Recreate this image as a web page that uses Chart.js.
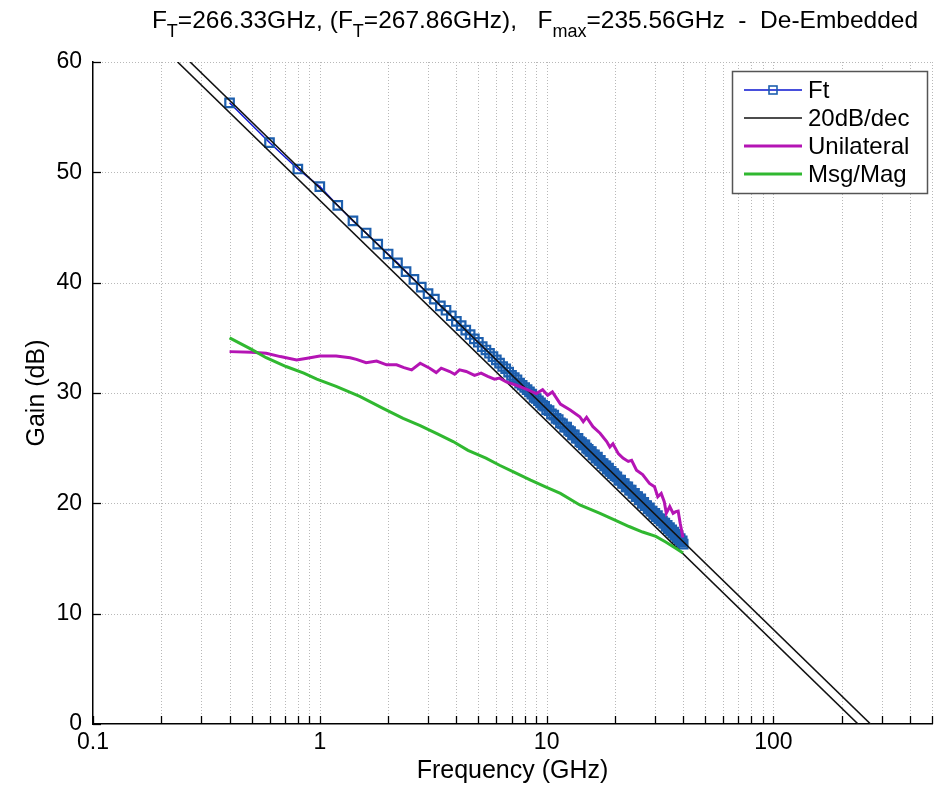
<!DOCTYPE html>
<html>
<head>
<meta charset="utf-8">
<title>Gain vs Frequency</title>
<script src="https://cdn.jsdelivr.net/npm/chart.js"></script>
<style>
  body { margin: 0; background: #fff; }
  .wrap { position: relative; width: 942px; height: 786px; }
  #title {
    position: absolute; top: 6px; left: 0; width: 942px;
    padding-left: 128px; box-sizing: border-box; text-align: center;
    font: 24.5px 'Liberation Sans', Arial, sans-serif; white-space: pre; color: #000;
  }
  #title sub { font-size: 18px; vertical-align: -9px; line-height: 0; }
</style>
</head>
<body>
<div class="wrap">
  <div id="title">F<sub>T</sub>=266.33GHz, (F<sub>T</sub>=267.86GHz),   F<sub>max</sub>=235.56GHz  -  De-Embedded</div>
  <canvas id="gainChart" width="942" height="786"></canvas>
</div>

<script>
// axis ticks
const xTickValues = [0.1, 0.2, 0.3, 0.4, 0.5, 0.6, 0.7, 0.8, 0.9,
                     1, 2, 3, 4, 5, 6, 7, 8, 9,
                     10, 20, 30, 40, 50, 60, 70, 80, 90,
                     100, 200, 300, 400, 500];
const xLabelValues = [0.1, 1, 10, 100];
const yTickValues = [0, 10, 20, 30, 40, 50, 60];

// Ft (|h21|) measured points
const ftFreq = [0.4, 0.6, 0.8, 1.0, 1.2, 1.4, 1.6, 1.8, 2.0, 2.2, 2.4, 2.6, 2.8, 3.0, 3.2, 3.4, 3.6, 3.8,
                4.0, 4.2, 4.4, 4.6, 4.8, 5.0, 5.2, 5.4, 5.6, 5.8, 6.0, 6.2, 6.4, 6.6, 6.8, 7.0, 7.2, 7.4,
                7.6, 7.8, 8.0, 8.2, 8.4, 8.6, 8.8, 9.0, 9.2, 9.4, 9.6, 9.8,
                10, 10.25, 10.5, 10.75, 11, 11.25, 11.5, 11.75, 12, 12.25, 12.5, 12.75, 13, 13.25, 13.5, 13.75,
                14, 14.25, 14.5, 14.75, 15, 15.25, 15.5, 15.75, 16, 16.25, 16.5, 16.75, 17, 17.25, 17.5, 17.75,
                18, 18.25, 18.5, 18.75, 19, 19.25, 19.5, 19.75, 20,
                20.4, 20.8, 21.2, 21.6, 22, 22.4, 22.8, 23.2, 23.6, 24, 24.4, 24.8, 25.2, 25.6, 26, 26.4, 26.8,
                27.2, 27.6, 28, 28.4, 28.8, 29.2, 29.6, 30, 30.4, 30.8, 31.2, 31.6, 32, 32.4, 32.8, 33.2, 33.6,
                34, 34.4, 34.8, 35.2, 35.6, 36, 36.4, 36.8, 37.2, 37.6, 38, 38.4, 38.8, 39.2, 39.6, 40];
const ftGain = [56.3, 52.7, 50.3, 48.7, 47.0, 45.6, 44.5, 43.5, 42.6, 41.8, 41.0, 40.3, 39.6, 39.0, 38.5, 37.9, 37.5, 37.0,
                36.5, 36.1, 35.7, 35.3, 34.9, 34.6, 34.2, 33.9, 33.6, 33.3, 33.0, 32.7, 32.4, 32.2, 31.9, 31.6, 31.4, 31.2,
                30.9, 30.7, 30.5, 30.3, 30.1, 29.9, 29.6, 29.5, 29.3, 29.1, 28.9, 28.8,
                28.5, 28.4, 28.1, 28.0, 27.7, 27.6, 27.3, 27.2, 26.9, 26.9, 26.6, 26.5, 26.2, 26.2, 25.9, 25.9,
                25.6, 25.5, 25.3, 25.3, 25.0, 24.9, 24.7, 24.7, 24.4, 24.4, 24.1, 24.2, 23.9, 23.9, 23.6, 23.6,
                23.4, 23.4, 23.1, 23.2, 22.9, 22.9, 22.7, 22.7, 22.5,
                22.4, 22.1, 22.1, 21.8, 21.8, 21.5, 21.5, 21.2, 21.2, 20.9, 20.9, 20.6, 20.6, 20.3, 20.4, 20.0, 20.1,
                19.8, 19.8, 19.5, 19.6, 19.3, 19.3, 19.0, 19.1, 18.8, 18.9, 18.6, 18.6, 18.4, 18.4, 18.2, 18.2, 17.9,
                18.0, 17.7, 17.8, 17.5, 17.6, 17.3, 17.4, 17.1, 17.2, 16.9, 17.0, 16.7, 16.8, 16.5, 16.6, 16.3];

// 20 dB/dec reference lines (end points)
const slopeFreqA = [0.268, 268];
const slopeFreqB = [0.236, 236];
const slopeGain = [60, 0];

// unilateral gain
const uFreq = [0.4, 0.5, 0.58, 0.67, 0.79, 0.88, 1.0, 1.18, 1.36, 1.45, 1.6, 1.78, 1.97, 2.18, 2.35, 2.54, 2.77,
               3.05, 3.26, 3.43, 3.74, 3.93, 4.13, 4.42, 4.81, 5.14, 5.5, 5.89, 6.2, 6.64, 7.35, 8.13, 9.0, 9.6,
               10.1, 10.6, 11.2, 11.5, 12.7, 14.0, 14.5, 15.0, 16, 17.2, 18.4, 19, 19.6, 20.7, 21.7, 22.9, 23.7,
               24.9, 26.5, 28.4, 29.9, 30.9, 32, 33, 33.7, 34.9, 36.1, 37.1, 38, 38.8, 39.9];
const uGain = [33.75, 33.7, 33.6, 33.3, 33.0, 33.15, 33.35, 33.35, 33.2, 33.05, 32.75, 32.9, 32.55, 32.55, 32.3, 32.1, 32.7,
               32.25, 31.85, 32.25, 31.95, 31.7, 32.1, 31.95, 31.6, 31.8, 31.5, 31.25, 31.35, 31.0, 30.7, 30.35, 29.95, 30.3,
               29.8, 30.1, 29.35, 29.0, 28.46, 27.85, 27.4, 27.8, 26.95, 26.35, 25.6, 25.1, 25.4, 24.5, 24.1, 23.8, 23.9,
               23.0, 22.6, 21.8, 21.5, 20.6, 20.9, 20.15, 19.1, 19.7, 19.1, 19.25, 19.3, 18.2, 16.9];

// MSG / MAG
const mFreq = [0.4, 0.5, 0.58, 0.71, 0.85, 0.97, 1.18, 1.5, 1.9, 2.33, 2.77, 3.3, 3.87, 4.5, 5.4, 6.2, 7.14,
               8.5, 10, 11.5, 14, 17.2, 19.9, 23.1, 26.5, 30.3, 33.5, 37.2, 39.9];
const mGain = [35.0, 33.95, 33.2, 32.4, 31.8, 31.25, 30.6, 29.7, 28.6, 27.7, 27.05, 26.3, 25.6, 24.8, 24.1, 23.45, 22.85,
               22.1, 21.45, 20.9, 19.85, 19.1, 18.5, 17.9, 17.4, 17.0, 16.5, 15.9, 15.5];

const toPts = (xs, ys) => xs.map((v, i) => ({ x: v, y: ys[i] }));

Chart.defaults.font.family = "'Liberation Sans', Arial, sans-serif";
Chart.defaults.color = '#000';

// matlab-like grid, inward ticks and boxed legend
const matlabAxes = {
    id: 'matlabAxes',
    beforeDatasetsDraw(chart) {
        const { ctx, chartArea: a, scales: { x, y } } = chart;
        ctx.save();
        ctx.strokeStyle = '#b8b8b8';
        ctx.lineWidth = 1;
        ctx.setLineDash([1, 2]);
        xTickValues.forEach(v => {
            if (v === 0.1) return;
            const px = Math.round(x.getPixelForValue(v)) + 0.5;
            ctx.beginPath(); ctx.moveTo(px, a.top); ctx.lineTo(px, a.bottom); ctx.stroke();
        });
        yTickValues.forEach(v => {
            if (v === 0) return;
            const py = Math.round(y.getPixelForValue(v)) + 0.5;
            ctx.beginPath(); ctx.moveTo(a.left, py); ctx.lineTo(a.right, py); ctx.stroke();
        });
        ctx.restore();
    },
    afterDatasetsDraw(chart) {
        const { ctx, chartArea: a, scales: { x, y } } = chart;
        ctx.save();
        ctx.strokeStyle = '#000';
        ctx.lineWidth = 1.3;
        xTickValues.forEach(v => {
            const px = Math.round(x.getPixelForValue(v)) + 0.5;
            ctx.beginPath(); ctx.moveTo(px, a.bottom); ctx.lineTo(px, a.bottom - 8); ctx.stroke();
        });
        yTickValues.forEach(v => {
            const py = Math.round(y.getPixelForValue(v)) + 0.5;
            ctx.beginPath(); ctx.moveTo(a.left, py); ctx.lineTo(a.left + 8, py); ctx.stroke();
        });

        // legend box
        const items = chart.data.datasets.filter(d => d.label);
        const bx = a.right - 200, by = a.top + 9, bw = 195, bh = 122;
        ctx.fillStyle = '#fff';
        ctx.fillRect(bx, by, bw, bh);
        ctx.strokeStyle = '#555';
        ctx.lineWidth = 1.5;
        ctx.strokeRect(bx + 0.5, by + 0.5, bw, bh);
        ctx.font = "24px 'Liberation Sans', Arial, sans-serif";
        ctx.textBaseline = 'middle';
        ctx.textAlign = 'left';
        items.forEach((d, i) => {
            const ly = by + 19 + i * 28;
            ctx.strokeStyle = d.borderColor;
            ctx.lineWidth = d.borderWidth;
            ctx.beginPath(); ctx.moveTo(bx + 12, ly); ctx.lineTo(bx + 70, ly); ctx.stroke();
            if (d.pointStyle === 'rect') {
                ctx.strokeStyle = d.pointBorderColor;
                ctx.lineWidth = 1.6;
                ctx.strokeRect(bx + 37, ly - 4, 8, 8);
            }
            ctx.fillStyle = '#000';
            ctx.fillText(d.label, bx + 76, ly + 1);
        });
        ctx.restore();
    }
};

new Chart(document.getElementById('gainChart'), {
    type: 'line',
    data: {
        datasets: [
            {
                label: 'Ft',
                data: toPts(ftFreq, ftGain),
                borderColor: '#0a14d0',
                borderWidth: 1.5,
                pointStyle: 'rect',
                pointRadius: 6,
                pointBorderColor: '#1d5fae',
                pointBorderWidth: 2.2,
                pointBackgroundColor: 'rgba(0,0,0,0)',
                order: 4
            },
            {
                label: '20dB/dec',
                data: toPts(slopeFreqA, slopeGain),
                borderColor: '#111',
                borderWidth: 1.6,
                pointRadius: 0,
                order: 3
            },
            {
                label: '',
                data: toPts(slopeFreqB, slopeGain),
                borderColor: '#111',
                borderWidth: 1.6,
                pointRadius: 0,
                order: 3
            },
            {
                label: 'Unilateral',
                data: toPts(uFreq, uGain),
                borderColor: '#b414b4',
                borderWidth: 3,
                pointRadius: 0,
                order: 2
            },
            {
                label: 'Msg/Mag',
                data: toPts(mFreq, mGain),
                borderColor: '#30b830',
                borderWidth: 3,
                pointRadius: 0,
                order: 1
            }
        ]
    },
    options: {
        responsive: false,
        animation: false,
        events: [],
        layout: { padding: { top: 62, right: 10, left: 0, bottom: 0 } },
        elements: { line: { tension: 0 } },
        plugins: { legend: { display: false }, title: { display: false }, tooltip: { enabled: false } },
        scales: {
            x: {
                type: 'logarithmic',
                min: 0.1,
                max: 500,
                grid: { display: false, drawTicks: false },
                border: { display: true, color: '#000', width: 1.5 },
                afterBuildTicks: scale => { scale.ticks = xTickValues.map(v => ({ value: v })); },
                afterFit: scale => { scale.height = 62; },
                ticks: {
                    autoSkip: false,
                    maxRotation: 0,
                    minRotation: 0,
                    padding: 5,
                    font: { size: 23 },
                    callback: v => xLabelValues.includes(v) ? String(v) : ''
                },
                title: { display: true, text: 'Frequency (GHz)', font: { size: 25 }, padding: { top: 0, bottom: 0 } }
            },
            y: {
                min: 0,
                max: 60,
                grid: { display: false, drawTicks: false },
                border: { display: true, color: '#000', width: 1.5 },
                afterFit: scale => { scale.width = 93; },
                ticks: { stepSize: 10, padding: 11, font: { size: 23 } },
                title: { display: true, text: 'Gain (dB)', font: { size: 25 }, padding: { top: 22, bottom: 0 } }
            }
        }
    },
    plugins: [matlabAxes]
});
</script>
</body>
</html>
